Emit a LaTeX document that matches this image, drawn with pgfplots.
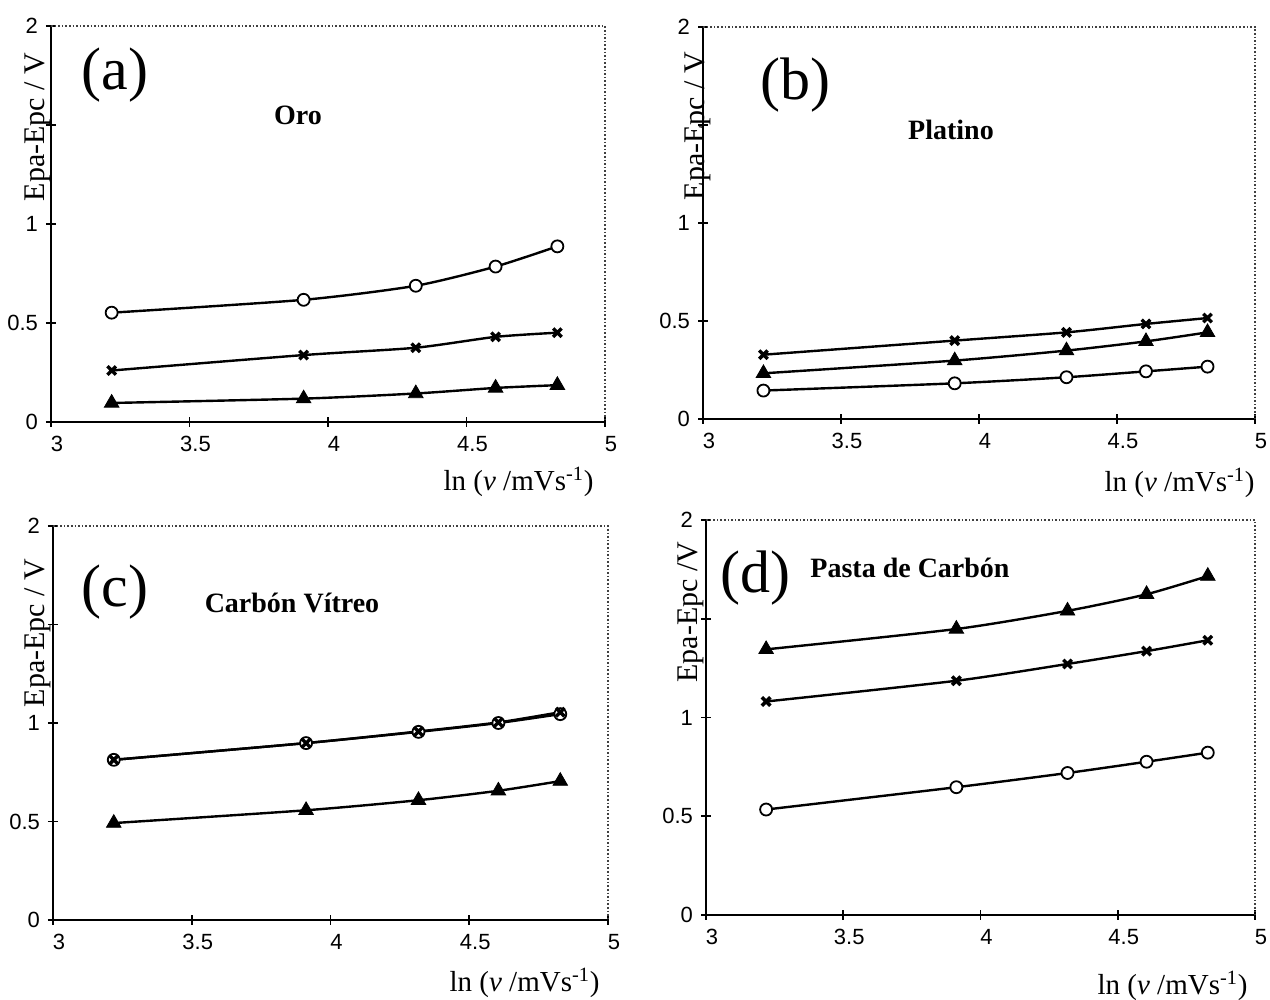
\documentclass[border=0pt]{standalone}
\usepackage{fontspec}
\setmainfont{Liberation Serif}
\newfontfamily\arial{Liberation Sans}
\usepackage{pgfplots}
\pgfplotsset{compat=1.18}

% scan rates 25, 50, 75, 100, 125 mV/s  ->  ln(v)
\pgfplotstableread{
x      circ   cross  tri
3.219  0.552  0.260  0.096
3.912  0.617  0.338  0.118
4.317  0.688  0.375  0.144
4.605  0.785  0.430  0.172
4.828  0.887  0.451  0.186
}\oro
\pgfplotstableread{
x      circ   cross  tri
3.219  0.145  0.328  0.233
3.912  0.182  0.400  0.298
4.317  0.213  0.442  0.349
4.605  0.243  0.485  0.396
4.828  0.267  0.515  0.442
}\platino
\pgfplotstableread{
x      circ   cross  tri
3.219  0.813  0.813  0.492
3.912  0.898  0.898  0.557
4.317  0.955  0.957  0.608
4.605  1.000  1.003  0.656
4.828  1.045  1.055  0.705
}\vitreo
\pgfplotstableread{
x      circ   cross  tri
3.219  0.534  1.081  1.345
3.912  0.647  1.186  1.448
4.317  0.719  1.271  1.540
4.605  0.776  1.336  1.624
4.828  0.822  1.391  1.716
}\pasta

\pgfplotsset{
  panel/.style={
    scale only axis, anchor=south west, clip=false,
    xmin=3, xmax=5, ymin=0, ymax=2,
    xtick={3,3.5,4,4.5,5}, xticklabels={3,3.5,4,4.5,5},
    ytick={0,0.5,1,1.5,2}, yticklabels={0,0.5,1,,2},
    axis x line*=bottom, axis y line*=left,
    axis line style={-, line width=1.1pt, black},
    tick align=center, major tick length=5pt,
    tick style={line width=0.8pt, black},
    ticklabel style={font=\arial\fontsize{11}{13}\selectfont},
    xticklabel style={xshift=3pt, yshift=-1pt},
    yticklabel style={xshift=-0.5pt},
    execute at end axis={
      \draw[densely dotted, line width=0.8pt, black!75]
        (rel axis cs:0,1) -- (rel axis cs:1,1) -- (rel axis cs:1,0);
    },
  },
  ser/.style={black, line width=1.2pt, smooth, tension=0.4},
  circ/.style={ser, mark=*, mark size=3pt, mark options={fill=white, line width=0.9pt}},
  cross/.style={ser, mark=x, mark size=3pt, mark options={line width=1.7pt}},
  tri/.style={ser, mark=triangle*, mark size=4.2pt, mark options={line width=0.4pt}},
}

\newcommand{\plotall}[1]{%
  \addplot[circ]  table[x=x, y=circ]  {#1};
  \addplot[cross] table[x=x, y=cross] {#1};
  \addplot[tri]   table[x=x, y=tri]   {#1};
}

\tikzset{
  letter/.style={font=\fontsize{30}{32}\selectfont},
  ttl/.style={font=\bfseries\fontsize{14}{16}\selectfont},
  ylab/.style={rotate=90, font=\fontsize{15}{17}\selectfont, inner sep=0pt},
  xlab/.style={anchor=east, font=\fontsize{14.5}{16}\selectfont, inner sep=0pt},
}

\begin{document}
\begin{tikzpicture}
\path[use as bounding box] (0,0) rectangle (635pt,500pt);

% (a) Oro
\begin{axis}[panel, at={(25.5pt,289pt)}, width=277pt, height=198pt]
  \plotall{\oro}
\end{axis}
\node[letter] at (57.5pt,462.5pt) {(a)};
\node[ttl] at (149pt,442.5pt) {Oro};
\node[ylab] at (19pt,436.5pt) {Epa-Epc / V};
\node[xlab] at (297pt,259pt) {ln (\textit{ν} /mVs\textsuperscript{-1})};

% (b) Platino
\begin{axis}[panel, at={(351.5pt,290.5pt)}, width=276pt, height=196pt]
  \plotall{\platino}
\end{axis}
\node[letter] at (397.5pt,457.5pt) {(b)};
\node[ttl] at (475.5pt,435pt) {Platino};
\node[ylab] at (349pt,437pt) {Epa-Epc / V};
\node[xlab] at (627.5pt,258.5pt) {ln (\textit{ν} /mVs\textsuperscript{-1})};

% (c) Carbon vitreo
\begin{axis}[panel, at={(26.5pt,40pt)}, width=277.5pt, height=197pt]
  \plotall{\vitreo}
\end{axis}
\node[letter] at (57.5pt,204pt) {(c)};
\node[ttl] at (146pt,198.5pt) {Carbón Vítreo};
\node[ylab] at (19pt,183.5pt) {Epa-Epc / V};
\node[xlab] at (300pt,8.5pt) {ln (\textit{ν} /mVs\textsuperscript{-1})};

% (d) Pasta de carbon
\begin{axis}[panel, at={(353pt,42.5pt)}, width=274.5pt, height=197.5pt]
  \plotall{\pasta}
\end{axis}
\node[letter] at (377.5pt,211pt) {(d)};
\node[ttl] at (455pt,216pt) {Pasta de Carbón};
\node[ylab] at (345.5pt,194pt) {Epa-Epc /V};
\node[xlab] at (624pt,7pt) {ln (\textit{ν} /mVs\textsuperscript{-1})};
\end{tikzpicture}
\end{document}
